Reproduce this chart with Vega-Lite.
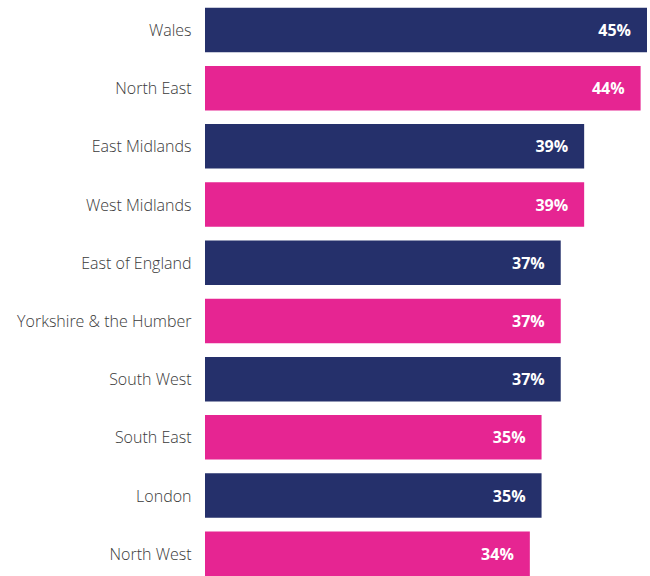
{
  "$schema": "https://vega.github.io/schema/vega-lite/v6.json",
  "autosize": "none",
  "padding": {"left": 205, "top": 0, "right": 3, "bottom": 0},
  "width": 442,
  "height": 576,
  "background": "white",
  "config": {"view": {"stroke": null}},
  "data": {
    "values": [
      {"region": "Wales", "value": 0.45, "group": "A"},
      {"region": "North East", "value": 0.444, "group": "B"},
      {"region": "East Midlands", "value": 0.391, "group": "A"},
      {"region": "West Midlands", "value": 0.391, "group": "B"},
      {"region": "East of England", "value": 0.369, "group": "A"},
      {"region": "Yorkshire & the Humber", "value": 0.369, "group": "B"},
      {"region": "South West", "value": 0.369, "group": "A"},
      {"region": "South East", "value": 0.351, "group": "B"},
      {"region": "London", "value": 0.351, "group": "A"},
      {"region": "North West", "value": 0.34, "group": "B"}
    ]
  },
  "encoding": {
    "y": {
      "field": "region",
      "type": "nominal",
      "sort": null,
      "scale": {"paddingInner": 0.235, "paddingOuter": 0.066, "align": 1},
      "axis": {
        "title": null,
        "domain": false,
        "ticks": false,
        "labelPadding": 14,
        "labelOffset": 1,
        "labelFont": "Open Sans",
        "labelFontSize": 16,
        "labelFontWeight": 300,
        "labelColor": "#3a3a3a",
        "labelLimit": 300
      }
    },
    "x": {
      "field": "value",
      "type": "quantitative",
      "scale": {"domain": [0.035, 0.45], "zero": false, "nice": false},
      "axis": null
    }
  },
  "layer": [
    {
      "mark": {"type": "bar", "clip": true},
      "encoding": {
        "color": {
          "field": "group",
          "type": "nominal",
          "scale": {"domain": ["A", "B"], "range": ["#25306B", "#E62592"]},
          "legend": null
        }
      }
    },
    {
      "mark": {"type": "text", "align": "right", "baseline": "middle", "dx": -16, "dy": 1, "font": "Open Sans", "fontSize": 16, "fontWeight": "bold", "color": "white"},
      "encoding": {
        "text": {"field": "value", "type": "quantitative", "format": ".0%"}
      }
    }
  ]
}
